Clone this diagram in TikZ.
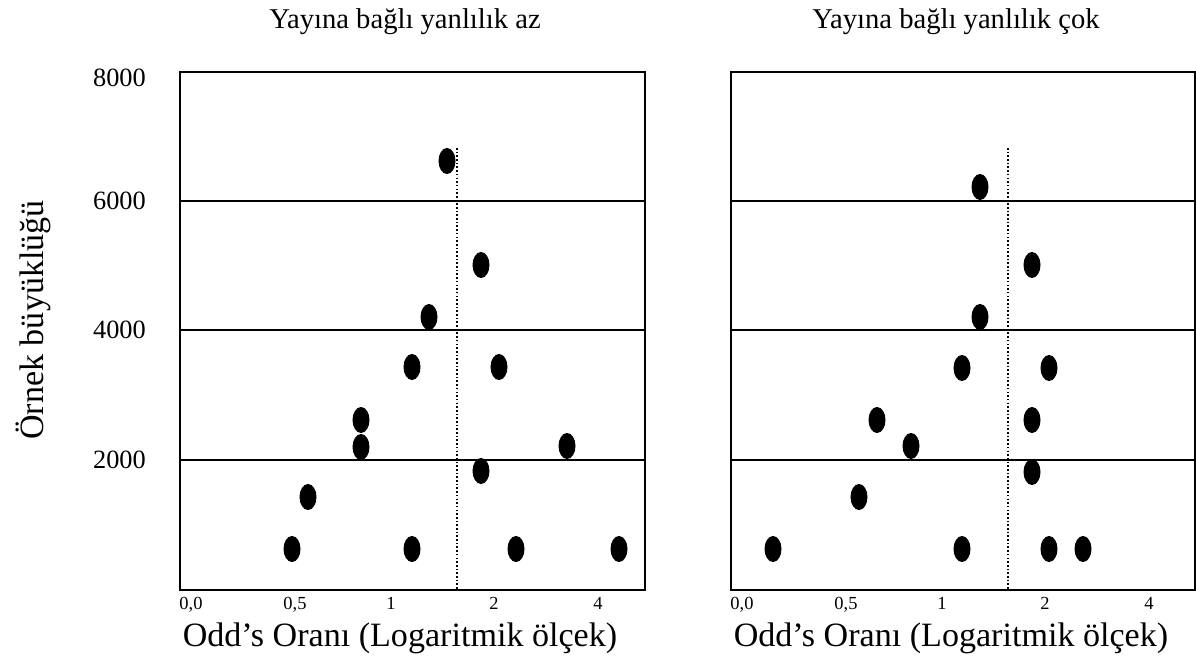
\documentclass[tikz,border=0pt]{standalone}
\usepackage{fontspec}
\setmainfont{Liberation Serif}
\usetikzlibrary{arrows}
\usetikzlibrary{positioning}
\tikzset{>=latex}
\tikzset{
  frame/.style={line width=1.5pt},
  gridline/.style={line width=1.1pt},
  nullline/.style={line width=1.2pt, dash pattern=on 0.9pt off 1.2pt},
  study/.style={fill=black},
  paneltitle/.style={font=\fontsize{16.3}{19}\selectfont},
  axistitle/.style={font=\fontsize{19.4}{23}\selectfont},
  ytick/.style={anchor=east, font=\fontsize{15}{18}\selectfont},
  xtick/.style={anchor=base, font=\fontsize{10.5}{12}\selectfont},
}

\begin{document}
\begin{tikzpicture}[x=0.02cm, y=-0.02cm]
  \useasboundingbox (0,0) rectangle (1196,661);

  % y axis
  \node [axistitle, rotate=90] (ylabel) at (33,320) {Örnek büyüklüğü};
  \foreach \yy/\val in {78/8000, 201/6000, 330/4000, 460/2000}
    \node [ytick] (y\val) at (152,\yy) {\val};

  % both panels
  \foreach \dx/\rx/\tit in {0/645/az, 551/1195/çok} {
    \node [paneltitle] (title\dx) at (405+\dx,22) {Yayına bağlı yanlılık \tit};
    \draw [frame] (180+\dx,72) rectangle (\rx,590);
    \foreach \yy in {201, 330, 460}
      \draw [gridline] (180+\dx,\yy) -- (\rx,\yy);
    \draw [nullline] (457+\dx,148) -- (457+\dx,590);
    \foreach \xx/\val in {191/{0,0}, 295/{0,5}, 391/1, 494/2, 598/4}
      \node [xtick] (x\dx\xx) at (\xx+\dx,609) {\val};
    \node [axistitle] (xlabel\dx) at (400+\dx,638) {Odd’s Oranı (Logaritmik ölçek)};
  }

  % studies, left panel
  \foreach \px/\py in {447/161, 481/265, 429/317, 412/367, 499/367,
                       361/420, 361/447, 567/446, 481/471, 308/497,
                       292/549, 412/549, 516/549, 619/549}
    \fill [study] (\px,\py) ellipse [x radius=0.17cm, y radius=0.26cm];

  % studies, right panel
  \foreach \px/\py in {980/187, 1032/265, 980/317, 962/368, 1049/368,
                       877/420, 1032/420, 911/446, 1032/472, 859/497,
                       773/549, 962/549, 1049/549, 1083/549}
    \fill [study] (\px,\py) ellipse [x radius=0.17cm, y radius=0.26cm];
\end{tikzpicture}
\end{document}
